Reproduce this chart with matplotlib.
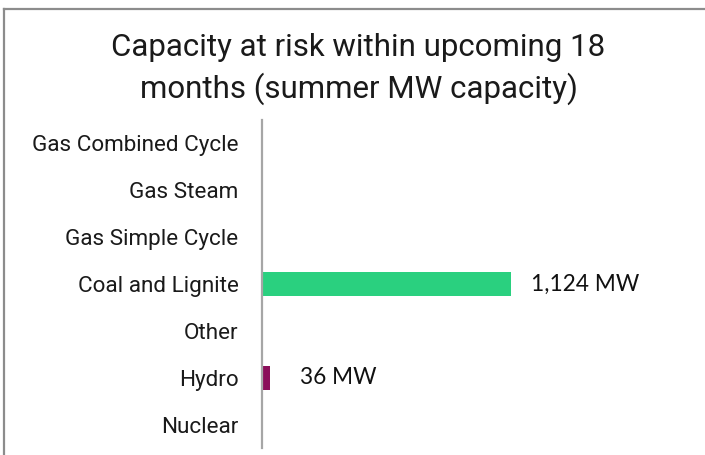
import matplotlib
matplotlib.use("Agg")
import matplotlib.pyplot as plt

categories = ["Gas Combined Cycle", "Gas Steam", "Gas Simple Cycle",
              "Coal and Lignite", "Other", "Hydro", "Nuclear"]
values = [0, 0, 0, 1124, 0, 36, 0]
value_labels = ["", "", "", "1,124 MW", "", "36 MW", ""]
bar_colors = ["#2ad07f", "#2ad07f", "#2ad07f", "#2ad07f", "#2ad07f", "#8b0f5a", "#2ad07f"]
title = "Capacity at risk within upcoming 18\nmonths (summer MW capacity)"

narrow = ["Roboto", "DejaVu Sans"]

fig = plt.figure(figsize=(7.05, 4.55), dpi=100)
W, H = 705, 455
# outer border (top and left visible)
fig.add_artist(plt.Line2D([3.5 / W, 3.5 / W], [0, 1 - 8.5 / H], transform=fig.transFigure,
                          color="#8c8c8c", lw=1.6))
fig.add_artist(plt.Line2D([3.5 / W, 1], [1 - 8.5 / H, 1 - 8.5 / H], transform=fig.transFigure,
                          color="#8c8c8c", lw=1.6))

ax = fig.add_axes([262 / W, 1 - 448.5 / H, (W - 262) / W, 329 / H])
y = list(range(len(categories)))
ax.barh(y, values, height=0.51, color=bar_colors, zorder=2)
ax.set_ylim(len(categories) - 0.5, -0.5)
ax.set_xlim(0, (W - 262) / 0.2215)
ax.set_yticks(y)
ax.set_yticklabels(categories, fontsize=16.2, family=narrow, color="#1a1a1a")
ax.tick_params(axis="y", length=0, pad=17)
ax.set_xticks([])
for s in ["top", "right", "bottom"]:
    ax.spines[s].set_visible(False)
ax.spines["left"].set_color("#a6a6a6")
ax.spines["left"].set_linewidth(1.6)

offsets = [20, 20, 20, 20, 20, 30, 20]
for yi, v, lab, off in zip(y, values, value_labels, offsets):
    if lab:
        ax.annotate(lab, (v, yi), xytext=(off * 0.72, 0), textcoords="offset points",
                    ha="left", va="center", fontsize=16.3, family="Lato", color="#111111")

fig.text(0.5 + 6 / W, 1 - 69 / H, title, ha="center", va="center", fontsize=22.5,
         family=narrow, color="#1a1a1a", linespacing=1.42)

fig.savefig("out.png", dpi=100)
